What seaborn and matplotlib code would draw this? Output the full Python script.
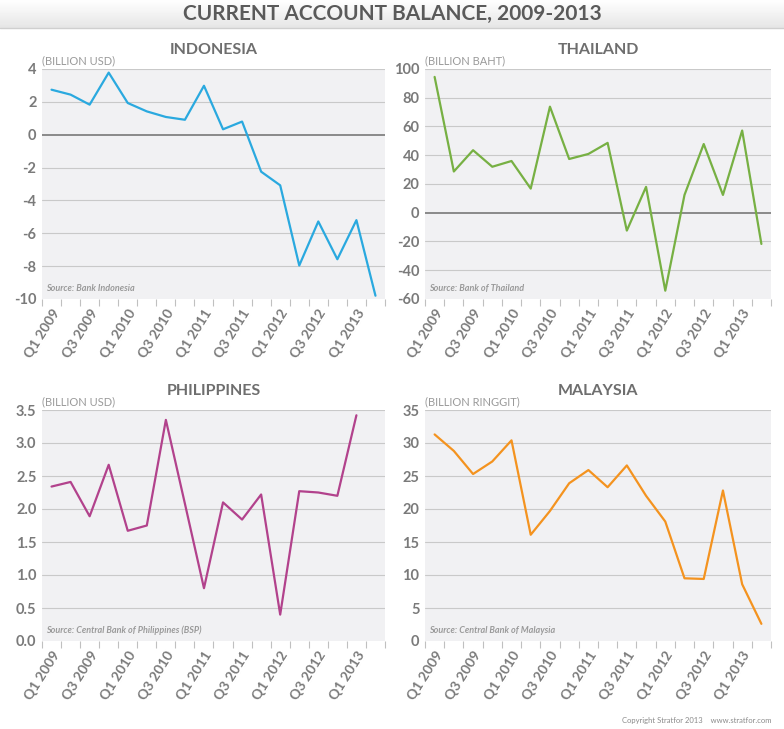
import numpy as np
import pandas as pd
import seaborn as sns
import matplotlib.pyplot as plt

quarters = [f"Q{q} {y}" for y in range(2009, 2014) for q in range(1, 5)][:18]

indonesia = [2.74, 2.44, 1.83, 3.78, 1.93, 1.42, 1.08, 0.91, 2.98, 0.33, 0.8,
             -2.25, -3.08, -7.96, -5.28, -7.58, -5.2, -9.8]
thailand = [94.5, 28.7, 43.5, 32.0, 36.0, 16.8, 73.8, 37.4, 40.9, 48.6, -12.4,
            18.0, -54.2, 12.4, 47.8, 12.4, 57.2, -21.7]
philippines = [2.34, 2.41, 1.89, 2.67, 1.67, 1.75, 3.35, 2.08, 0.8, 2.1, 1.84,
               2.22, 0.4, 2.27, 2.25, 2.2, 3.42, np.nan]
malaysia = [31.3, 28.8, 25.3, 27.2, 30.4, 16.1, 19.7, 23.9, 25.9, 23.3, 26.6,
            22.0, 18.1, 9.5, 9.4, 22.8, 8.6, 2.6]

panels = [
    ("INDONESIA", "(BILLION USD)", "Source: Bank Indonesia", indonesia,
     "#2aa9df", (-10, 4), np.arange(-10, 5, 2), "{:.0f}"),
    ("THAILAND", "(BILLION BAHT)", "Source: Bank of Thailand", thailand,
     "#77b043", (-60, 100), np.arange(-60, 101, 20), "{:.0f}"),
    ("PHILIPPINES", "(BILLION USD)", "Source: Central Bank of Philippines (BSP)",
     philippines, "#b2428c", (0, 3.5), np.arange(0, 3.51, 0.5), "{:.1f}"),
    ("MALAYSIA", "(BILLION RINGGIT)", "Source: Central Bank of Malaysia", malaysia,
     "#f4931f", (0, 35), np.arange(0, 36, 5), "{:.0f}"),
]

sns.set_theme(style="white")
plt.rcParams['font.family'] = ['Lato', 'DejaVu Sans']

W, H = 784, 729
fig = plt.figure(figsize=(W / 100, H / 100), dpi=100)

# header band
band = fig.add_axes([0, 1 - 28 / H, 1, 28 / H])
grad = np.linspace(1.0, 0.9, 50).reshape(-1, 1)
band.imshow(grad, cmap="gray", vmin=0, vmax=1, aspect="auto", extent=[0, 1, 0, 1])
band.axis("off")
fig.add_artist(plt.Line2D([0, 1], [1 - 28 / H, 1 - 28 / H], color="#cfcfcf", lw=1))
fig.text(0.5, 1 - 14 / H, "CURRENT ACCOUNT BALANCE, 2009-2013", ha="center",
         va="center", fontsize=15, fontweight="bold", color="#5a5a5a")

boxes = [(42, 69, 385, 299), (425, 69, 771, 299),
         (42, 410, 385, 641), (425, 410, 771, 641)]

x = np.arange(len(quarters))
for (name, unit, src, vals, col, ylim, yt, fmt), (l, t, r, b) in zip(panels, boxes):
    ax = fig.add_axes([l / W, 1 - b / H, (r - l) / W, (b - t) / H])
    ax.set_facecolor("#f1f1f3")
    df = pd.DataFrame({"q": x, "v": vals})
    sns.lineplot(data=df, x="q", y="v", ax=ax, color=col, lw=1.6)
    ax.set_xlim(-0.5, len(quarters) - 0.5)
    ax.set_ylim(*ylim)
    ax.set_yticks(yt)
    ax.set_yticklabels([fmt.format(v) for v in yt])
    for v in yt[1:]:
        ax.axhline(v, color="#8a8a8a" if v == 0 else "#c9c9c9",
                   lw=1.4 if v == 0 else 0.8, zorder=0.5)
    ax.set_xticks(x[::2])
    ax.set_xticklabels(quarters[::2], rotation=58, ha="right",
                       rotation_mode="anchor")
    ax.set_xticks(np.arange(-0.5, len(quarters)), minor=True)
    ax.tick_params(axis="x", which="major", length=0, pad=6,
                   labelsize=10, labelcolor="#7a7a7a")
    ax.tick_params(axis="x", which="minor", length=5, color="#c0c0c0",
                   width=0.8, bottom=True)
    ax.tick_params(axis="y", length=0, pad=4, labelsize=10.5,
                   labelcolor="#7a7a7a")
    for lbl in ax.get_yticklabels() + ax.get_xticklabels():
        lbl.set_fontweight("bold")
    for s in ax.spines.values():
        s.set_visible(False)
    ax.set_xlabel("")
    ax.set_ylabel("")
    ax.set_title(name, fontsize=11.5, fontweight="bold", color="#6e6e6e", pad=11)
    ax.text(0.0, 1.012, unit, transform=ax.transAxes, fontsize=8,
            color="#9a9a9a", ha="left", va="bottom")
    ax.text(0.012, 0.025, src, transform=ax.transAxes, fontsize=6.5,
            color="#9a9a9a", style="italic", fontweight="bold",
            ha="left", va="bottom")

fig.text(1 - 12 / W, 1 - 721 / H, "Copyright Stratfor 2013    www.stratfor.com",
         ha="right", va="center", fontsize=5.5, color="#8a8a8a")

fig.savefig("out.png", dpi=100)
